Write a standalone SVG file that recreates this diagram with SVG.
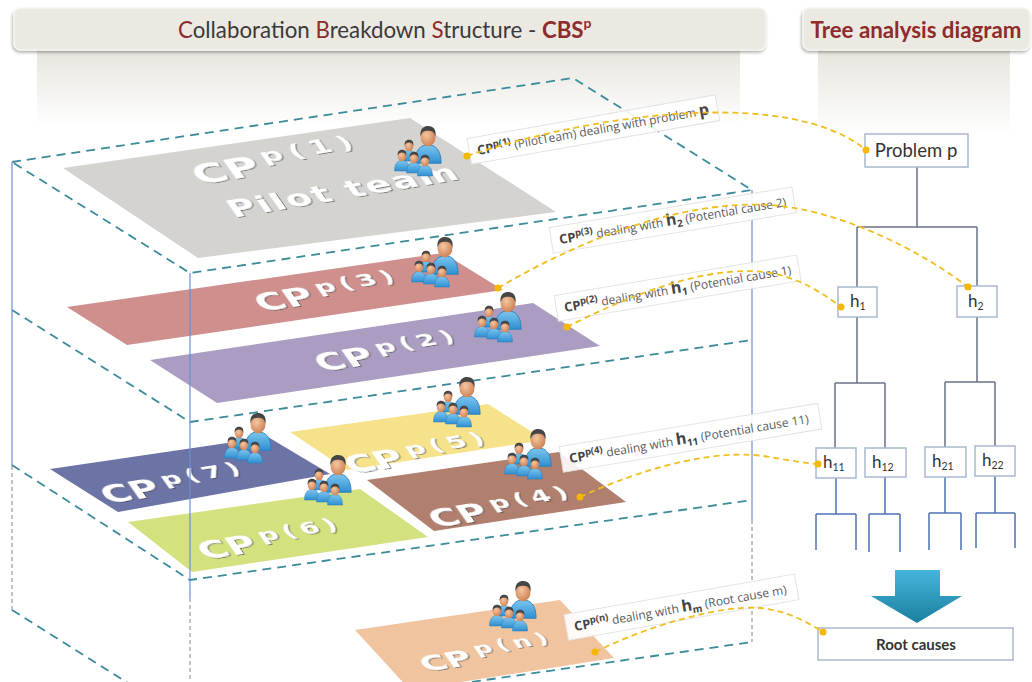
<svg xmlns="http://www.w3.org/2000/svg" xmlns:xlink="http://www.w3.org/1999/xlink" width="1032" height="682" viewBox="0 0 1032 682">
  <style>
    .hdr { fill: #ebe9e2; stroke: #f6f5f1; stroke-width: 1.5; }
    .ttl { font-family: "Lato", "Open Sans", sans-serif; font-size: 22.3px; fill: #3a3a3a; }
    .red { fill: #8e2b2b; }
    .edge { fill: none; stroke: #3b8b9b; stroke-width: 1.8; stroke-dasharray: 9 6; }
    .post { fill: none; stroke: #6b8fd2; stroke-width: 1.2; }
    .postd { fill: none; stroke: #7c8496; stroke-width: 1; stroke-dasharray: 4 3; }
    .cptxt { font-family: "DejaVu Sans", sans-serif; font-weight: bold; fill: #ffffff; }
    .lbox { fill: #ffffff; fill-opacity: 0.9; stroke: #e2e2e2; stroke-width: 1; }
    .lbl { font-family: "Open Sans", "Noto Sans", sans-serif; font-size: 12px; fill: #5a5a5a; }
    .lb { font-weight: bold; fill: #444; font-size: 13px; }
    .lsup { font-weight: bold; fill: #444; font-size: 9.5px; }
    .lbig { font-weight: bold; fill: #444; font-size: 16px; }
    .lsub { font-weight: bold; fill: #444; font-size: 10px; }
    .conn { fill: none; stroke: #f0be1e; stroke-width: 1.8; stroke-dasharray: 6 4; }
    .dot { fill: #f5b800; }
    .node { fill: #ffffff; stroke: #a9b9cf; stroke-width: 1.5; }
    .ntxt { font-family: "Lato", "Open Sans", sans-serif; fill: #333; }
    .tline { fill: none; stroke: #6b7286; stroke-width: 1.5; }
    .tline2 { fill: none; stroke: #4f72b5; stroke-width: 1.5; }
  </style>
  <defs>
    <filter id="hdrShadow" x="-5%" y="-30%" width="110%" height="170%">
      <feDropShadow dx="-1" dy="2" stdDeviation="1.6" flood-color="#000" flood-opacity="0.3"/>
    </filter>
    <filter id="emboss" x="-10%" y="-30%" width="120%" height="160%">
      <feDropShadow dx="0.8" dy="1.2" stdDeviation="0.7" flood-color="#3a3a3a" flood-opacity="0.75"/>
    </filter>
    <linearGradient id="panelFade" x1="0" y1="0" x2="0" y2="1">
      <stop offset="0" stop-color="#e6e4dc"/>
      <stop offset="1" stop-color="#ffffff"/>
    </linearGradient>
    <linearGradient id="arrowFill" x1="0" y1="0" x2="0" y2="1">
      <stop offset="0" stop-color="#45b6dc"/>
      <stop offset="1" stop-color="#1b7f9f"/>
    </linearGradient>
    <linearGradient id="shirt" x1="0" y1="0" x2="0" y2="1">
      <stop offset="0" stop-color="#7cc6f0"/>
      <stop offset="1" stop-color="#2f8fd0"/>
    </linearGradient>
    <radialGradient id="skin" cx="0.4" cy="0.4" r="0.7">
      <stop offset="0" stop-color="#f6c6a0"/>
      <stop offset="1" stop-color="#c9794c"/>
    </radialGradient>
    <!-- one team member: head centred on origin -->
    <g id="member">
      <path d="M-7.5,15 C-7.5,7 -4,4.5 0,4.5 C4,4.5 7.5,7 7.5,15 Z" fill="url(#shirt)" stroke="#2b7fb9" stroke-width="0.5"/>
      <ellipse cx="0" cy="0" rx="4.3" ry="5.3" fill="url(#skin)"/>
      <path d="M-4.3,-0.3 C-4.8,-5 -2.2,-6.3 0,-6.3 C2.6,-6.3 4.9,-4.8 4.3,-0.3 C3.6,-3 2,-3.6 0,-3.6 C-2,-3.6 -3.6,-3 -4.3,-0.3 Z" fill="#454545"/>
    </g>
    <!-- team: leader behind, members in front -->
    <g id="team">
      <use xlink:href="#member" transform="translate(32,16) scale(1.75)"/>
      <use xlink:href="#member" transform="translate(13,25)"/>
      <use xlink:href="#member" transform="translate(6,35)"/>
      <use xlink:href="#member" transform="translate(18,37)"/>
      <use xlink:href="#member" transform="translate(29,40)"/>
    </g>
  </defs>

  <rect width="1032" height="682" fill="#ffffff"/>

  <!-- header sheets -->
  <g id="panels">
    <rect x="37" y="48" width="703" height="78" fill="url(#panelFade)"/>
    <rect x="818" y="48" width="192" height="88" fill="url(#panelFade)"/>
  </g>

  <g id="title-cbs">
    <rect class="hdr" x="14" y="8" width="752" height="42" rx="7" filter="url(#hdrShadow)"/>
    <text class="ttl" x="178" y="38"><tspan class="red">C</tspan>ollaboration <tspan class="red">B</tspan>reakdown <tspan class="red">S</tspan>tructure - <tspan class="red" font-weight="bold">CBS</tspan><tspan class="red" font-weight="bold" font-size="14" dy="-10">p</tspan></text>
  </g>
  <g id="title-tree">
    <rect class="hdr" x="803" y="8" width="227" height="42" rx="7" filter="url(#hdrShadow)"/>
    <text class="ttl red" x="916" y="38" text-anchor="middle" font-weight="bold" font-size="22.5">Tree analysis diagram</text>
  </g>

  <!-- layer frames -->
  <g id="frames">
    <path class="edge" d="M12,162 L573,78 L752,190 L190,273 Z"/>
    <path class="edge" d="M12,310 L190,422 L752,340"/>
    <path class="edge" d="M12,465 L190,580 L752,500"/>
    <path class="edge" d="M12,610 L190,722 L752,642"/>
  </g>

  <!-- collaboration planes -->
  <g id="cp1">
    <polygon points="63,168 410,118 556,212 198,258" fill="#d4d3cf"/>
    <g transform="matrix(1,-0.17,0.42,0.6,200,185)" filter="url(#emboss)">
      <text class="cptxt" font-size="44">CP<tspan font-size="30" dy="-16" dx="7" letter-spacing="7">p(1)</tspan></text>
      <text class="cptxt" font-size="36" x="10" y="58" letter-spacing="2">Pilot team</text>
    </g>
  </g>
  <g id="cp3">
    <polygon points="67,307 443,253 503,290 127,345" fill="#cf8f8d"/>
    <g transform="matrix(1,-0.16,0.42,0.6,262,312)" filter="url(#emboss)">
      <text class="cptxt" font-size="38">CP<tspan font-size="27" dy="-14" dx="7" letter-spacing="5">p(3)</tspan></text>
    </g>
  </g>
  <g id="cp2">
    <polygon points="150,360 533,303 600,346 217,403" fill="#ab9dc1"/>
    <g transform="matrix(1,-0.16,0.42,0.6,322,372)" filter="url(#emboss)">
      <text class="cptxt" font-size="38">CP<tspan font-size="27" dy="-14" dx="7" letter-spacing="5">p(2)</tspan></text>
    </g>
  </g>
  <g id="cp5">
    <polygon points="290,432 488,404 545,440 347,470" fill="#f6e28a"/>
    <g transform="matrix(1,-0.16,0.42,0.6,352,474)" filter="url(#emboss)">
      <text class="cptxt" font-size="38">CP<tspan font-size="27" dy="-14" dx="7" letter-spacing="5">p(5)</tspan></text>
    </g>
  </g>
  <g id="cp7">
    <polygon points="50,469 268,437 330,474 118,512" fill="#6c74a5"/>
    <g transform="matrix(1,-0.16,0.42,0.6,108,504)" filter="url(#emboss)">
      <text class="cptxt" font-size="38">CP<tspan font-size="27" dy="-14" dx="7" letter-spacing="5">p(7)</tspan></text>
    </g>
  </g>
  <g id="cp6">
    <polygon points="128,522 360,489 428,537 192,572" fill="#d5e07f"/>
    <g transform="matrix(1,-0.16,0.42,0.6,205,560)" filter="url(#emboss)">
      <text class="cptxt" font-size="38">CP<tspan font-size="27" dy="-14" dx="7" letter-spacing="5">p(6)</tspan></text>
    </g>
  </g>
  <g id="cp4">
    <polygon points="367,480 559,452 626,502 434,531" fill="#b07f6e"/>
    <g transform="matrix(1,-0.16,0.42,0.6,436,528)" filter="url(#emboss)">
      <text class="cptxt" font-size="38">CP<tspan font-size="27" dy="-14" dx="7" letter-spacing="5">p(4)</tspan></text>
    </g>
  </g>
  <g id="cpn">
    <polygon points="355,630 560,600 614,658 410,690" fill="#f1c4a0"/>
    <g transform="matrix(1,-0.16,0.42,0.6,426,672)" filter="url(#emboss)">
      <text class="cptxt" font-size="34">CP<tspan font-size="25" dy="-13" dx="7" letter-spacing="5">p(n)</tspan></text>
    </g>
  </g>

  <!-- vertical posts of the frame -->
  <g id="posts">
    <path class="post" d="M12,162 V466 M190,273 V598 M752,190 V520"/>
    <path class="postd" d="M12,466 V610 M190,598 V682 M752,520 V642"/>
  </g>

  <!-- teams -->
  <g id="teams">
    <use xlink:href="#team" transform="translate(396,121)"/>
    <use xlink:href="#team" transform="translate(413,232)"/>
    <use xlink:href="#team" transform="translate(476,287)"/>
    <use xlink:href="#team" transform="translate(435,372)"/>
    <use xlink:href="#team" transform="translate(226,408)"/>
    <use xlink:href="#team" transform="translate(306,450)"/>
    <use xlink:href="#team" transform="translate(506,424)"/>
    <use xlink:href="#team" transform="translate(491,576)"/>
  </g>

  <!-- labels -->
  <g id="label-1" transform="translate(478,155) rotate(-10)">
    <rect class="lbox" x="-8" y="-18" width="252" height="26"/>
    <text class="lbl"><tspan class="lb">CP</tspan><tspan class="lsup" dy="-5">p(1)</tspan><tspan dy="5"> (PilotTeam) dealing with problem </tspan><tspan class="lbig">p</tspan></text>
  </g>
  <g id="label-3" transform="translate(560,244) rotate(-9.5)">
    <rect class="lbox" x="-8" y="-18" width="246" height="26"/>
    <text class="lbl"><tspan class="lb">CP</tspan><tspan class="lsup" dy="-5">p(3)</tspan><tspan dy="5"> dealing with </tspan><tspan class="lbig">h</tspan><tspan class="lsub" dy="3">2</tspan><tspan dy="-3"> (Potential cause 2)</tspan></text>
  </g>
  <g id="label-2" transform="translate(565,312) rotate(-9.5)">
    <rect class="lbox" x="-8" y="-18" width="246" height="26"/>
    <text class="lbl"><tspan class="lb">CP</tspan><tspan class="lsup" dy="-5">p(2)</tspan><tspan dy="5"> dealing with </tspan><tspan class="lbig">h</tspan><tspan class="lsub" dy="3">1</tspan><tspan dy="-3"> (Potential cause 1)</tspan></text>
  </g>
  <g id="label-4" transform="translate(570,463) rotate(-9.5)">
    <rect class="lbox" x="-8" y="-18" width="262" height="26"/>
    <text class="lbl"><tspan class="lb">CP</tspan><tspan class="lsup" dy="-5">p(4)</tspan><tspan dy="5"> dealing with </tspan><tspan class="lbig">h</tspan><tspan class="lsub" dy="3">11</tspan><tspan dy="-3"> (Potential cause 11)</tspan></text>
  </g>
  <g id="label-n" transform="translate(575,631) rotate(-10)">
    <rect class="lbox" x="-8" y="-18" width="234" height="26"/>
    <text class="lbl"><tspan class="lb">CP</tspan><tspan class="lsup" dy="-5">p(n)</tspan><tspan dy="5"> dealing with </tspan><tspan class="lbig">h</tspan><tspan class="lsub" dy="3">m</tspan><tspan dy="-3"> (Root cause m)</tspan></text>
  </g>

  <!-- tree -->
  <g id="tree-lines">
    <path class="tline" d="M917,167 V227 M857,227 H977 M857,227 V288 M977,227 V287 M857,317 V383 M835,383 H885 M835,383 V448 M885,383 V448 M977,317 V382 M945,382 H995 M945,382 V447 M995,382 V446"/>
    <path class="tline2" d="M836,478 V514 M816,514 H856 M816,514 V550 M856,514 V550 M885,477 V514 M869,514 H900 M869,514 V552 M900,514 V552 M945,477 V513 M929,513 H961 M929,513 V550 M961,513 V550 M995,476 V513 M976,513 H1015 M976,513 V548 M1015,513 V548"/>
  </g>
  <g id="node-problem">
    <rect class="node" x="865" y="134" width="103" height="33"/>
    <text class="ntxt" x="916" y="157" font-size="18.5" text-anchor="middle">Problem p</text>
  </g>
  <g id="node-h1">
    <rect class="node" x="838" y="287" width="39" height="30"/>
    <text class="ntxt" x="850" y="307" font-size="17">h<tspan font-size="10.5" dy="3">1</tspan></text>
  </g>
  <g id="node-h2">
    <rect class="node" x="957" y="286" width="40" height="31"/>
    <text class="ntxt" x="968" y="307" font-size="17">h<tspan font-size="10.5" dy="3">2</tspan></text>
  </g>
  <g id="node-h11">
    <rect class="node" x="816" y="448" width="40" height="30"/>
    <text class="ntxt" x="823" y="468" font-size="17">h<tspan font-size="10.5" dy="3">11</tspan></text>
  </g>
  <g id="node-h12">
    <rect class="node" x="865" y="448" width="41" height="29"/>
    <text class="ntxt" x="872" y="468" font-size="17">h<tspan font-size="10.5" dy="3">12</tspan></text>
  </g>
  <g id="node-h21">
    <rect class="node" x="925" y="447" width="41" height="30"/>
    <text class="ntxt" x="932" y="467" font-size="17">h<tspan font-size="10.5" dy="3">21</tspan></text>
  </g>
  <g id="node-h22">
    <rect class="node" x="975" y="446" width="40" height="30"/>
    <text class="ntxt" x="982" y="466" font-size="17">h<tspan font-size="10.5" dy="3">22</tspan></text>
  </g>
  <g id="arrow-down">
    <path d="M895,570 H940 V596 H962 L917,623 L871,596 H895 Z" fill="url(#arrowFill)"/>
  </g>
  <g id="node-root">
    <rect class="node" x="818" y="628" width="195" height="32"/>
    <text class="ntxt" x="916" y="650" font-size="15" font-weight="bold" text-anchor="middle" fill="#8e2b2b">Root causes</text>
  </g>

  <!-- links from teams to tree nodes -->
  <g id="connectors">
    <path class="conn" d="M467,156 C600,112 790,88 866,150"/>
    <path class="conn" d="M498,288 C580,240 680,200 770,205 C840,210 920,250 968,287"/>
    <path class="conn" d="M567,327 C620,300 700,265 765,272 C800,277 825,295 841,307"/>
    <path class="conn" d="M580,497 C650,465 720,448 770,457 C792,461 805,463 818,464"/>
    <path class="conn" d="M595,652 C650,625 720,605 760,608 C790,611 810,624 823,632"/>
    <circle class="dot" cx="467" cy="156" r="3.5"/>
    <circle class="dot" cx="866" cy="150" r="3.5"/>
    <circle class="dot" cx="498" cy="288" r="3.5"/>
    <circle class="dot" cx="968" cy="287" r="3.5"/>
    <circle class="dot" cx="567" cy="327" r="3.5"/>
    <circle class="dot" cx="841" cy="307" r="3.5"/>
    <circle class="dot" cx="580" cy="497" r="3.5"/>
    <circle class="dot" cx="818" cy="464" r="3.5"/>
    <circle class="dot" cx="595" cy="652" r="3.5"/>
    <circle class="dot" cx="823" cy="632" r="3.5"/>
  </g>
</svg>
